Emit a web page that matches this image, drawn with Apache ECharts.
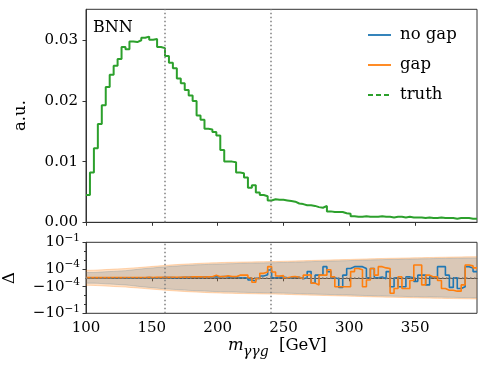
<!DOCTYPE html>
<html><head><meta charset="utf-8">
<script src="https://cdn.jsdelivr.net/npm/echarts@6/dist/echarts.min.js"></script>
<style>html,body{margin:0;padding:0;background:#fff}#c{width:493px;height:370px}</style>
</head><body><div id="c"></div>
<script>
// ---- data ----
const binStart = 100, binWidth = 3;           // GeV
const truth = [0.0045,0.0082,0.0122,0.0162,0.0193,0.0223,0.0243,0.0258,0.0269,0.0289,
0.0285,0.0298,0.0297,0.0300,0.0304,0.0306,0.0301,0.0302,0.0289,0.0287,
0.0274,0.0263,0.0254,0.0237,0.0229,0.0218,0.0209,0.0200,0.0176,0.0169,
0.0154,0.0153,0.0149,0.0143,0.0119,0.0100,0.0100,0.0099,0.0082,0.0081,
0.0074,0.0057,0.0061,0.0049,0.0045,0.0043,0.0036,0.0038,0.0037,0.0037,
0.0036,0.0035,0.0034,0.0031,0.0030,0.0028,0.0028,0.0027,0.0025,0.0024,
0.0027,0.0018,0.0017,0.0017,0.0017,0.0015,0.0014,0.0010,0.0009,0.0009,
0.0010,0.0009,0.0009,0.0009,0.0010,0.0009,0.0009,0.0008,0.0009,0.0009,
0.0008,0.0009,0.0008,0.0008,0.0008,0.0007,0.0008,0.0007,0.0007,0.0008,
0.0007,0.0007,0.0007,0.0006,0.0007,0.0007,0.0007,0.0006,0.0006];
// relative deviations and uncertainty bands, in units of 1e-4
const errNoGap = [0.6,0.6,0.62,0.65,0.68, 0.7,0.72,0.75,0.78,0.8, 0.85,0.9,0.95,1.0,1.1, 1.2,1.3,1.45,1.6,1.7,
1.85,2.0,2.1,2.3,2.4, 2.6,2.7,2.9,3.0,3.1, 3.2,3.4,3.5,3.6,3.7, 3.8,3.9,4.0,4.2,4.3,
4.4,4.5,4.6,4.7,4.8, 4.9,5.0,5.1,5.2,5.3, 5.4,5.6,5.8,6.0,6.2, 6.4,6.6,6.8,7.0,7.2,
7.4,7.6,7.8,8.0,8.2, 8.4,8.7,9.0,9.3,9.6, 9.9,10.2,10.5,10.8,11.1, 11.4,11.6,11.8,12.0,12.3,
12.6,12.9,13.2,13.5,13.8, 14.0,14.2,14.5,14.8,15.0, 15.3,15.6,15.9,16.2,16.5, 16.8,17.0,17.2,17.5];
const errGap = [0.85,0.86,0.88,0.9,0.93, 0.95,0.98,1.0,1.05,1.1, 1.2,1.3,1.4,1.5,1.65, 1.8,1.95,2.1,2.3,2.5,
2.7,2.9,3.1,3.3,3.5, 3.7,3.9,4.1,4.3,4.5, 4.7,4.9,5.0,5.2,5.4, 5.5,5.6,5.8,5.9,6.0,
6.1,6.2,6.3,6.5,6.6, 6.7,6.8,6.9,7.1,7.3, 7.5,7.7,8.0,8.2,8.5, 8.7,9.0,9.2,9.5,9.8,
10.0,10.3,10.6,10.9,11.2, 11.5,11.8,12.2,12.6,13.0, 13.4,13.8,14.2,14.6,15.0, 15.4,15.7,16.0,16.3,16.7,
17.0,17.4,17.8,18.2,18.6, 19.0,19.4,19.8,20.2,20.6, 21.0,21.4,21.8,22.2,22.6, 23.0,23.4,23.8,24.2];
const deltaNoGap = [0.0,0.01,0.0,-0.01,0.0,0.01,0.0,0.0,0.01,0.0, -0.01,0.0,0.01,0.0,0.0,0.02,0.0,-0.02,0.0,0.02,
0.03,0.02,0.0,0.03,0.05,0.05,0.08,0.1,0.05,0.08, 0.1,0.1,0.12,0.1,0.15,0.1,0.05,0.1,0.0,
0.0,0.0,-0.25,-0.36,-0.06,0.2,0.35,0.88,0.0,0.05, 0.1,0.0,0.0,0.1,0.05,-0.1,0.0,0.7,-0.6,0.3,
0.3,1.8,0.7,0.0,-0.1,-1.2,0.3,1.1,1.8,1.8, 1.8,1.1,0.0,1.1,0.0,0.1,-0.1,0.7,-1.0,0.0,
-1.0,-1.0,0.1,0.0,-0.4,0.3,0.3,-0.8,0.1,0.1, 1.8,1.8,0.3,-1.2,0.0,-1.6,-1.0,1.8,1.3,0.7];
const deltaGap = [0.02,0.03,0.02,0.02,0.03,0.02,0.03,0.03,0.02,0.03, 0.04,0.03,0.04,0.03,0.04,0.05,0.04,0.05,0.05,0.06,
0.05,0.06,0.07,0.06,0.08,0.07,0.1,0.12,0.1,0.08, 0.1,0.12,0.28,0.13,0.13,0.24,0.13,0.13,0.3,
0.3,0.3,0.0,-0.5,-0.08,0.5,0.65,1.8,0.65,0.2, 0.25,0.0,0.1,0.15,0.05,-0.1,0.3,0.35,-0.6,-0.8,
0.3,0.3,0.9,0.1,-1.0,-1.0,-1.0,-1.0,0.7,1.1, 0.9,-1.0,-0.25,1.1,0.3,1.8,1.3,1.1,-5.6,-1.6,
0.1,-1.6,-1.6,-0.3,2.75,2.75,-0.8,0.3,0.1,0.1, -0.3,-1.6,-2.5,-2.5,-3.2,-3.2,-0.8,2.75,2.2,1.3];
const xTicks = [100,150,200,250,300,350];
const yTicksTop = [0,0.01,0.02,0.03];
const deltaTicks = [-1000,-1,1,1000];           // in units of 1e-4
const deltaTickLabels = ['{b|\u221210}{s|\u22121}','{b|\u221210}{s|\u22124}','{b|10}{s|\u22124}','{b|10}{s|\u22121}'];
const deltaMinor = [-100,-10,10,100];
const regionCuts = [160,240];
const legendNames = ['no gap','gap','truth'];
const legendColors = ['#1f77b4','#ff7f0e','#2ca02c'];

// ---- helpers ----
const symlog = v => { const a = Math.abs(v); return Math.sign(v) * (a <= 1 ? a : 1 + Math.log10(a)); };
const edges = truth.map((_, i) => binStart + binWidth * i).concat([binStart + binWidth * truth.length]);
const stepData = (arr, f) => edges.map((e, i) => [e, f(arr[Math.min(i, arr.length - 1)])]);
const xMin = binStart, xMax = edges[edges.length - 1];
const FONT = 'DejaVu Serif';
const AX = '#333';

const chart = echarts.init(document.getElementById('c'), null, {renderer: 'canvas'});
const dotted = {color: '#808080', width: 1.5, type: [1.5, 2.5]};
const vlineMark = {symbol: 'none', silent: true, label: {show: false}, lineStyle: dotted,
  data: regionCuts.map(v => ({xAxis: v}))};

const bandSeries = (name, arr, color, sign, z, op) => ({
  name, type: 'line', xAxisIndex: 1, yAxisIndex: 1, step: 'end', symbol: 'none',
  data: stepData(arr, v => sign * symlog(v)), lineStyle: {width: 0.8, color, opacity: op + 0.1},
  areaStyle: {color, opacity: op, origin: 0}, z, silent: true
});

const legendGraphics = [];
legendNames.forEach((n, i) => {
  const y = 35 + i * 30;
  legendGraphics.push({type: 'line', shape: {x1: 368, y1: y, x2: 391, y2: y},
    style: {stroke: legendColors[i], lineWidth: 1.8, lineDash: n === 'truth' ? [5, 3] : null}});
  legendGraphics.push({type: 'text', x: 400, y: y, style: {text: n, font: '16.5px "DejaVu Serif"', fill: '#000', textVerticalAlign: 'middle'}});
});

chart.setOption({
  animation: false,
  textStyle: {fontFamily: FONT},
  grid: [
    {left: 86, top: 9.3, width: 391, height: 213, show: true, borderColor: AX, borderWidth: 1, backgroundColor: 'transparent'},
    {left: 86, top: 242.3, width: 391, height: 71, show: true, borderColor: AX, borderWidth: 1, backgroundColor: 'transparent'}
  ],
  xAxis: [
    {type: 'value', gridIndex: 0, min: xMin, max: xMax,
     axisLine: {show: true, lineStyle: {color: AX}}, splitLine: {show: false},
     axisTick: {show: true, customValues: xTicks, length: 3.5, lineStyle: {color: AX}},
     axisLabel: {show: false, customValues: xTicks}},
    {type: 'value', gridIndex: 1, min: xMin, max: xMax,
     axisLine: {show: true, lineStyle: {color: AX}}, splitLine: {show: false},
     axisTick: {show: true, customValues: xTicks, length: 3.5, lineStyle: {color: AX}},
     axisLabel: {customValues: xTicks, color: '#000', fontSize: 15, fontFamily: FONT, margin: 7}}
  ],
  yAxis: [
    {type: 'value', gridIndex: 0, min: 0, max: 0.0351,
     axisLine: {show: true, lineStyle: {color: AX}}, splitLine: {show: false},
     axisTick: {show: true, customValues: yTicksTop, length: 3.5, lineStyle: {color: AX}},
     axisLabel: {customValues: yTicksTop, color: '#000', fontSize: 15, fontFamily: FONT, margin: 8,
       formatter: v => v.toFixed(2)}},
    {type: 'value', gridIndex: 1, min: -4, max: 4, position: 'left',
     axisLine: {show: true, lineStyle: {color: AX}}, splitLine: {show: false},
     axisTick: {show: true, customValues: deltaTicks.map(symlog), length: 3.5, lineStyle: {color: AX}},
     axisLabel: {customValues: deltaTicks.map(symlog), color: '#000', fontFamily: FONT, margin: 6,
       formatter: v => deltaTickLabels[deltaTicks.map(symlog).findIndex(t => Math.abs(t - v) < 1e-6)] || '',
       rich: {b: {fontSize: 15, fontFamily: FONT, color: '#000'},
              s: {fontSize: 10.5, fontFamily: FONT, color: '#000', padding: [0, 0, 9, 0]}}}},
    {type: 'value', gridIndex: 1, min: -4, max: 4, position: 'left', offset: 0,
     axisLine: {show: false}, splitLine: {show: false}, axisLabel: {show: false},
     axisTick: {show: true, customValues: deltaMinor.map(symlog), length: 2, lineStyle: {color: AX}}}
  ],
  graphic: [
    {type: 'text', x: 93, y: 28, style: {text: 'BNN', font: '16px "DejaVu Serif"', fill: '#000', textVerticalAlign: 'middle'}},
    {type: 'text', x: 21, y: 115.6, rotation: Math.PI / 2, style: {text: 'a.u.', font: '16.5px "DejaVu Serif"', fill: '#000', textAlign: 'center', textVerticalAlign: 'middle'}},
    {type: 'text', x: 10, y: 278, rotation: Math.PI / 2, style: {text: '\u0394', font: '16.5px "DejaVu Serif"', fill: '#000', textAlign: 'center', textVerticalAlign: 'middle'}},
    {type: 'text', x: 228, y: 346, style: {text: 'm', font: 'italic 16.5px "DejaVu Serif"', fill: '#000', textVerticalAlign: 'middle'}},
    {type: 'text', x: 243, y: 352, style: {text: '\u03b3\u03b3g', font: 'italic 14px "DejaVu Serif"', fill: '#000', textVerticalAlign: 'middle'}},
    {type: 'text', x: 279, y: 346, style: {text: '[GeV]', font: '16.5px "DejaVu Serif"', fill: '#000', textVerticalAlign: 'middle'}}
  ].concat(legendGraphics),
  series: [
    {name: 'truth', type: 'line', xAxisIndex: 0, yAxisIndex: 0, step: 'end', symbol: 'none',
     data: stepData(truth, v => v), lineStyle: {color: '#2ca02c', width: 2}, itemStyle: {color: '#2ca02c'}, z: 3,
     markLine: vlineMark},
    bandSeries('band no gap +', errNoGap, '#1f77b4', 1, 1, 0.22),
    bandSeries('band no gap -', errNoGap, '#1f77b4', -1, 1, 0.22),
    bandSeries('band gap +', errGap, '#ff7f0e', 1, 2, 0.25),
    bandSeries('band gap -', errGap, '#ff7f0e', -1, 2, 0.25),
    {name: 'no gap', type: 'line', xAxisIndex: 1, yAxisIndex: 1, step: 'end', symbol: 'none',
     data: stepData(deltaNoGap, symlog), lineStyle: {color: '#1f77b4', width: 1.6}, itemStyle: {color: '#1f77b4'}, z: 3},
    {name: 'gap', type: 'line', xAxisIndex: 1, yAxisIndex: 1, step: 'end', symbol: 'none',
     data: stepData(deltaGap, symlog), lineStyle: {color: '#ff7f0e', width: 1.6}, itemStyle: {color: '#ff7f0e'}, z: 4,
     markLine: {symbol: 'none', silent: true, label: {show: false}, lineStyle: dotted,
       data: regionCuts.map(v => ({xAxis: v})).concat([{yAxis: 0}])}}
  ]
});
</script></body></html>
